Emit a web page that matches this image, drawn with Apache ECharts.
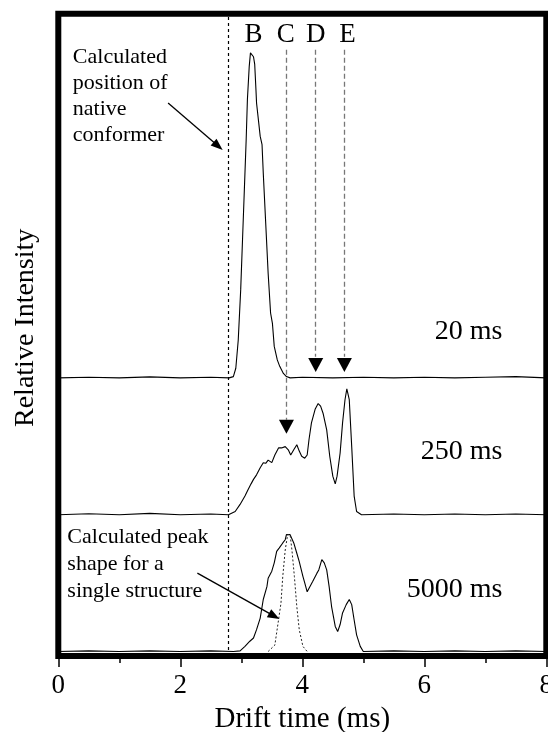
<!DOCTYPE html>
<html>
<head>
<meta charset="utf-8">
<title>Drift time</title>
<script src="https://cdn.jsdelivr.net/npm/echarts@6/dist/echarts.min.js"></script>
<style>
  html, body { margin: 0; padding: 0; background: #fff; }
  #main { width: 548px; height: 732px; }
</style>
</head>
<body>
<div id="main"></div>
<script>
// drift time (ms) / relative intensity
// each trace sits on its own baseline (offset) in the stacked plot

// 20 ms
var x20 = [0, 0.5, 1.0, 1.5, 2.0, 2.5, 2.8, 2.87, 2.91, 2.95, 2.99, 3.02, 3.05, 3.08, 3.10, 3.13, 3.15, 3.17,
  3.20, 3.22, 3.24, 3.25, 3.28, 3.31, 3.34, 3.36, 3.40, 3.44, 3.48, 3.51, 3.54, 3.59, 3.63, 3.69, 3.74, 3.80,
  4.0, 4.5, 5.0, 5.5, 6.0, 6.5, 7.0, 7.5, 8.0];
var y20 = [0, 0.1, 0, 0.15, 0, 0.1, 0, 0.2, 1.5, 5.9, 13.7, 21.5, 29.3, 37.1, 43.3, 48.5, 50.6, 50.8,
  50.0, 48.8, 44.9, 42.8, 42.5, 37.6, 36.3, 31.9, 24.1, 16.3, 10.1, 8.5, 4.9, 2.8, 1.8, 0.7, 0.2, 0,
  0.1, 0, 0.1, 0, 0.1, 0, 0.1, 0.2, 0];
var base20 = 43.3;

// 250 ms
var x250 = [0, 0.5, 1.0, 1.5, 2.0, 2.5, 2.79, 2.90, 2.98, 3.06, 3.11, 3.16, 3.20, 3.25, 3.28, 3.31, 3.36, 3.40,
  3.44, 3.50, 3.55, 3.61, 3.66, 3.72, 3.74, 3.77, 3.81, 3.86, 3.91, 3.95, 3.99, 4.04, 4.08, 4.11, 4.15,
  4.21, 4.26, 4.30, 4.34, 4.40, 4.45, 4.50, 4.54, 4.57, 4.62, 4.66, 4.70, 4.73, 4.77, 4.81, 4.85, 4.89,
  4.97, 5.5, 6.0, 6.5, 7.0, 7.5, 8.0];
var y250 = [0, 0.15, 0, 0.2, 0, 0.1, 0, 0.5, 1.6, 2.9, 3.9, 4.8, 5.5, 6.2, 6.0, 7.3, 8.1, 8.0,
  8.5, 8.1, 9.3, 10.4, 10.4, 10.6, 10.9, 10.1, 9.3, 10.1, 10.9, 9.9, 9.1, 8.8, 9.3, 11.7, 14.3,
  16.4, 17.3, 16.9, 15.8, 13.2, 9.1, 6.0, 4.8, 6.0, 9.6, 14.3, 17.9, 19.6, 17.9, 10.6, 2.9, 0.5,
  0, 0.1, 0, 0.1, 0, 0.1, 0];
var base250 = 22.0;

// 5000 ms
var x5000 = [0, 0.5, 1.0, 1.5, 2.0, 2.5, 2.87, 2.98, 3.06, 3.14, 3.20, 3.25, 3.31, 3.36, 3.42, 3.44, 3.50, 3.54,
  3.58, 3.62, 3.65, 3.68, 3.72, 3.74, 3.77, 3.80, 3.83, 3.86, 3.91, 3.95, 3.97, 4.01, 4.04, 4.08, 4.11,
  4.17, 4.24, 4.27, 4.32, 4.36, 4.40, 4.44, 4.48, 4.54, 4.58, 4.62, 4.66, 4.72, 4.77, 4.81, 4.85, 4.89,
  4.95, 5.00, 5.5, 6.0, 6.5, 7.0, 7.5, 8.0];
var y5000 = [0, 0.1, 0, 0.1, 0, 0.1, 0, 0.1, 0.8, 1.6, 2.1, 3.4, 5.2, 8.1, 10.1, 11.4, 12.5, 13.8,
  15.6, 16.1, 15.8, 16.9, 17.4, 18.2, 18.4, 18.2, 18.5, 16.9, 15.3, 14.0, 14.3, 11.7, 10.7, 9.3, 9.6,
  10.9, 12.2, 12.7, 14.3, 13.8, 12.7, 10.1, 7.0, 3.9, 3.1, 4.2, 6.0, 7.3, 8.1, 7.3, 4.9, 2.6,
  0.8, 0, 0.1, 0, 0.1, 0, 0.1, 0];
var base5000 = 0.7;

// calculated peak shape for a single structure (dotted)
var xCalc = [3.44, 3.55, 3.61, 3.65, 3.68, 3.72, 3.76, 3.80, 3.83, 3.87, 3.91, 3.95, 4.01, 4.08];
var yCalc = [0, 1.0, 4.9, 7.5, 11.7, 15.8, 18.2, 18.2, 15.8, 11.7, 7.0, 3.4, 0.8, 0];

// calculated position of native conformer
var nativeX = 2.79;
// conformer labels and their marker lines
var peakNames = ['B', 'C', 'D', 'E'];
var peakNameX = [3.20, 3.73, 4.22, 4.74];
var markerX = [3.74, 4.22, 4.69];
var markerTop = 94.4;
var markerEnd = [36.8, 46.6, 46.6];
var markerHead = [35.7, 45.3, 45.3];

var timeLabels = ['20 ms', '250 ms', '5000 ms'];
var timeLabelY = [50.5, 31.8, 10.4];

var serif = "'Liberation Serif', 'Times New Roman', Times, serif";
var clear = "rgba(0,0,0,0)";

function stack(xs, ys, base) {
  var out = [];
  for (var i = 0; i < xs.length; i++) {
    out.push([xs[i], ys[i] + base]);
  }
  return out;
}

// invisible point that only carries a text label
function textAt(x, y, text, pos, size, lh) {
  return {
    coord: [x, y],
    symbol: "circle",
    symbolSize: 1,
    itemStyle: { color: clear },
    label: {
      show: true, formatter: text, position: pos, distance: 0,
      fontSize: size, lineHeight: lh || size, fontFamily: serif, color: "#000"
    }
  };
}

var chart = echarts.init(document.getElementById("main"));

var lineMarks = [];
for (var i = 0; i < markerX.length; i++) {
  lineMarks.push([{ coord: [markerX[i], markerTop] }, { coord: [markerX[i], markerEnd[i]] }]);
}

var points = [];
for (var j = 0; j < peakNames.length; j++) {
  points.push(textAt(peakNameX[j], 96.7, peakNames[j], "inside", 27));
}
for (var k = 0; k < markerX.length; k++) {
  points.push({
    coord: [markerX[k], markerHead[k]],
    symbol: "triangle",
    symbolSize: [15, 14],
    symbolRotate: 180,
    itemStyle: { color: "#000" },
    label: { show: false }
  });
}
for (var m = 0; m < timeLabels.length; m++) {
  points.push(textAt(7.29, timeLabelY[m], timeLabels[m], "left", 28));
}
points.push(textAt(0.23, 87.1, "Calculated\nposition of\nnative\nconformer", "right", 22, 26));
points.push(textAt(0.14, 14.25, "Calculated peak\nshape for a\nsingle structure", "right", 22, 27));

chart.setOption({
  animation: false,
  grid: {
    left: 58.3,
    right: 1.7,
    top: 13.7,
    bottom: 76,
    outerBoundsMode: "none",
    containLabel: false,
    show: true,
    borderColor: "#000",
    borderWidth: 6,
    backgroundColor: "transparent"
  },
  xAxis: {
    type: "value",
    min: 0,
    max: 8,
    interval: 2,
    name: "Drift time (ms)",
    nameLocation: "middle",
    nameGap: 49,
    nameTextStyle: { fontSize: 29, fontFamily: serif, color: "#000" },
    axisLine: { show: false },
    axisTick: { show: true, length: 11, lineStyle: { color: "#000", width: 1.5 } },
    minorTick: { show: true, splitNumber: 2, length: 7, lineStyle: { color: "#000", width: 1.5 } },
    axisLabel: { margin: 16, fontSize: 27, fontFamily: serif, color: "#000" },
    splitLine: { show: false }
  },
  yAxis: {
    type: "value",
    min: 0,
    max: 100,
    name: "Relative Intensity",
    nameLocation: "middle",
    nameGap: 19,
    nameTextStyle: { fontSize: 28, fontFamily: serif, color: "#000", padding: [0, 0, 0, 14] },
    axisLine: { show: false },
    axisTick: { show: false },
    axisLabel: { show: false },
    splitLine: { show: false }
  },
  series: [
    {
      name: "20 ms",
      type: "line",
      data: stack(x20, y20, base20),
      showSymbol: false,
      lineStyle: { color: "#000", width: 1.1 },
      markLine: {
        silent: true,
        symbol: ["none", "none"],
        label: { show: false },
        lineStyle: { color: "#000", width: 1.2, type: [3, 3] },
        data: [{ xAxis: nativeX }]
      }
    },
    {
      name: "250 ms",
      type: "line",
      data: stack(x250, y250, base250),
      showSymbol: false,
      lineStyle: { color: "#000", width: 1.1 },
      markLine: {
        silent: true,
        symbol: ["none", "none"],
        label: { show: false },
        lineStyle: { color: "#777", width: 1.3, type: [5, 3] },
        data: lineMarks
      }
    },
    {
      name: "5000 ms",
      type: "line",
      data: stack(x5000, y5000, base5000),
      showSymbol: false,
      lineStyle: { color: "#000", width: 1.1 },
      markLine: {
        silent: true,
        symbol: ["none", "triangle"],
        symbolSize: [9, 12],
        label: { show: false },
        lineStyle: { color: "#000", width: 1.3, type: "solid" },
        data: [
          [{ coord: [1.80, 86.1] }, { coord: [2.62, 79.4] }],
          [{ coord: [2.28, 12.9] }, { coord: [3.54, 6.2] }]
        ]
      }
    },
    {
      name: "calculated",
      type: "line",
      data: stack(xCalc, yCalc, base5000),
      showSymbol: false,
      lineStyle: { color: "#222", width: 1, type: [2, 2] },
      markPoint: {
        silent: true,
        data: points
      }
    }
  ]
});
</script>
</body>
</html>
